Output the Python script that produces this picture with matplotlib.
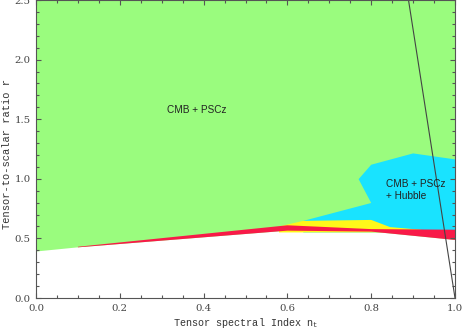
import matplotlib
matplotlib.use("Agg")
import matplotlib.pyplot as plt
from matplotlib.ticker import MultipleLocator

# Region boundaries (x = n_t, y = r)
green_x = [0.0, 0.1, 0.6, 0.8, 1.0, 1.0, 0.0]
green_y = [0.39, 0.425, 0.565, 0.557, 0.487, 2.5, 2.5]

cyan_x = [0.638, 0.80, 0.77, 0.80, 0.90, 1.0, 1.0, 0.638]
cyan_y = [0.647, 0.797, 0.997, 1.118, 1.213, 1.163, 0.55, 0.55]

yellow_x = [0.58, 0.638, 0.80, 0.845, 0.92, 0.92, 0.58]
yellow_y = [0.60, 0.647, 0.655, 0.595, 0.572, 0.55, 0.55]

red_x = [0.1, 0.6, 0.8, 1.0, 1.0, 0.8, 0.6, 0.1]
red_y = [0.425, 0.565, 0.557, 0.487, 0.573, 0.578, 0.61, 0.43]

line_x = [0.889, 1.0]
line_y = [2.5, 0.0]

labels = ["CMB + PSCz", "CMB + PSCz\n+ Hubble"]
label_x = [0.384, 0.835]
label_y = [1.58, 0.905]

MONO = "Liberation Mono"
SERIF = "DejaVu Serif"

fig = plt.figure(figsize=(4.63, 3.30), dpi=100)
ax = fig.add_axes([36/463, 32/330, 419/463, 298/330])

ax.fill(green_x, green_y, color="#9AFC7E", lw=0)
ax.fill(cyan_x, cyan_y, color="#19E3FF", lw=0)
ax.fill(yellow_x, yellow_y, color="#FFF81A", lw=0)
ax.fill(red_x, red_y, color="#F81A48", lw=0)
ax.plot(line_x, line_y, color="#444444", lw=0.8)

ax.text(label_x[0], label_y[0], labels[0], fontsize=7.2, family="Liberation Sans",
        ha="center", va="center", color="#222222")
ax.text(label_x[1], label_y[1], labels[1], fontsize=7.2, family="Liberation Sans",
        ha="left", va="center", color="#222222", linespacing=1.3)

ax.set_xlim(0, 1.0)
ax.set_ylim(0, 2.5)
ax.xaxis.set_major_locator(MultipleLocator(0.2))
ax.xaxis.set_minor_locator(MultipleLocator(0.05))
ax.yaxis.set_major_locator(MultipleLocator(0.5))
ax.yaxis.set_minor_locator(MultipleLocator(0.1))
ax.xaxis.set_major_formatter(plt.FormatStrFormatter("%.1f"))
ax.yaxis.set_major_formatter(plt.FormatStrFormatter("%.1f"))
ax.tick_params(which="both", direction="in", top=True, right=True,
               colors="#555555", labelcolor="#444444", width=0.8)
ax.tick_params(which="major", length=3.3, labelsize=7.3, pad=4)
ax.tick_params(which="minor", length=2.0)
for lab in ax.get_xticklabels() + ax.get_yticklabels():
    lab.set_family(SERIF)
for s in ax.spines.values():
    s.set_color("#555555")
    s.set_linewidth(0.8)

ax.set_xlabel("Tensor spectral Index n$_\\mathregular{t}$", fontsize=7.3,
              family=MONO, color="#333333")
ax.set_ylabel("Tensor-to-scalar ratio r", fontsize=7.5,
              family=MONO, color="#333333")
ax.xaxis.set_label_coords(0.5, -0.062)
ax.yaxis.set_label_coords(-0.057, 0.483)

fig.savefig("out.png", dpi=100)
